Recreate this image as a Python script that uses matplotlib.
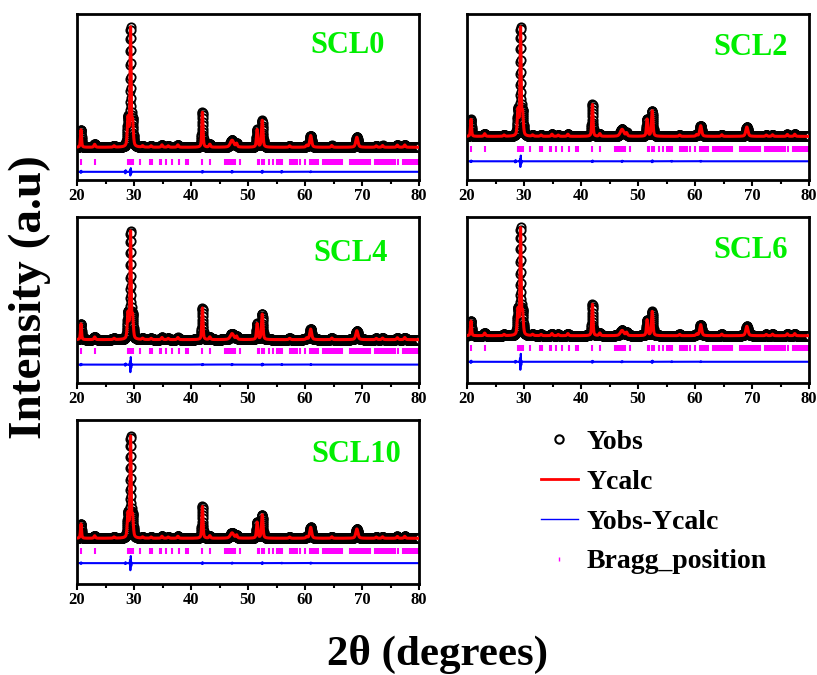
import numpy as np
import matplotlib
matplotlib.use("Agg")
import matplotlib.pyplot as plt
from matplotlib.lines import Line2D

plt.rcParams['font.family'] = ['Liberation Serif', 'DejaVu Serif']
plt.rcParams['font.weight'] = 'bold'

# strong reflections (2theta, fwhm) and their heights for each sample
major_pos = [20.7, 28.95, 29.4, 29.75, 42.0, 47.2, 51.6, 52.5, 61.0, 69.1]
major_fwhm = [0.22, 0.30, 0.22, 0.30, 0.25, 0.70, 0.28, 0.30, 0.40, 0.45]
h_scl0 = [0.15, 0.24, 1.0, 0.20, 0.30, 0.060, 0.15, 0.23, 0.100, 0.086]
h_scl2 = [0.16, 0.24, 1.0, 0.20, 0.30, 0.066, 0.16, 0.24, 0.100, 0.088]
h_scl4 = [0.15, 0.24, 1.0, 0.20, 0.30, 0.057, 0.15, 0.24, 0.100, 0.085]
h_scl6 = [0.14, 0.24, 1.0, 0.20, 0.30, 0.050, 0.15, 0.23, 0.105, 0.090]
h_scl10 = [0.145, 0.24, 1.0, 0.20, 0.32, 0.054, 0.16, 0.235, 0.110, 0.094]

# weak reflections, same in all samples
minor_pos = [23.1, 26.5, 31.5, 33.0, 34.9, 36.0, 37.7, 43.3, 48.0, 57.3,
             60.3, 64.7, 72.5, 73.6, 76.2, 77.5]
minor_h = [0.025, 0.012, 0.012, 0.012, 0.02, 0.012, 0.02, 0.025, 0.03, 0.012,
           0.015, 0.015, 0.012, 0.015, 0.018, 0.02]

# misfit left in the difference curve at a few reflections
resid_pos = [20.7, 28.5, 29.4, 42.0, 47.2, 52.5, 55.9, 61.0]
r_scl0 = [0.010, 0.015, 0.035, 0.008, 0.008, 0.010, 0.008, 0.004]
r_scl2 = [0.008, 0.012, 0.060, 0.008, 0.006, 0.010, 0.004, 0.004]
r_scl4 = [0.008, 0.012, 0.080, 0.006, 0.006, 0.010, 0.004, 0.004]
r_scl6 = [0.012, 0.010, 0.085, 0.010, 0.006, 0.012, 0.004, 0.004]
r_scl10 = [0.008, 0.010, 0.080, 0.010, 0.006, 0.010, 0.004, 0.006]

# calculated Bragg reflection positions
bragg = [20.76, 23.2, 28.96, 29.2, 29.4, 29.8, 31.0, 32.8, 33.2, 34.5, 34.8,
         35.6, 36.6, 37.9, 39.1, 39.5, 42.0, 43.4, 45.9, 46.2, 46.5, 46.8,
         47.1, 47.4, 47.7, 48.6, 51.7, 52.0, 52.4, 52.8, 53.6, 54.4, 55.1,
         55.4, 55.7, 56.0, 57.4, 57.7, 58.0, 58.3, 58.6, 59.1, 60.0, 60.9,
         61.2, 61.6, 61.9, 62.3, 63.2, 63.5, 63.8, 64.1, 64.4, 64.7, 65.0,
         65.3, 65.6, 65.9, 66.2, 66.5, 67.9, 68.3, 68.6, 68.9, 69.2, 69.5,
         69.8, 70.1, 70.4, 70.7, 71.0, 71.4, 72.3, 72.6, 72.9, 73.2, 73.5,
         73.8, 74.1, 74.4, 74.7, 75.0, 75.4, 75.8, 76.3, 77.2, 77.5, 77.8,
         78.1, 78.4, 78.7, 79.0, 79.3, 79.6, 79.8]

samples = ['SCL0', 'SCL2', 'SCL4', 'SCL6', 'SCL10']
heights = [h_scl0, h_scl2, h_scl4, h_scl6, h_scl10]
resids = [r_scl0, r_scl2, r_scl4, r_scl6, r_scl10]
# y window, Bragg row and difference row for each panel
ylims = [(-0.28, 1.14), (-0.41, 1.15), (-0.41, 1.16), (-0.45, 1.13), (-0.46, 1.19)]
bragg_y = [-0.126, -0.118, -0.11, -0.12, -0.125]
diff_y = [-0.21, -0.234, -0.236, -0.248, -0.25]
label_xy = [(0.79, 0.81), (0.83, 0.80), (0.80, 0.78), (0.83, 0.80), (0.816, 0.79)]


def pv(x, x0, w, eta=0.5):
    g = np.exp(-4 * np.log(2) * ((x - x0) / w) ** 2)
    l = 1 / (1 + 4 * ((x - x0) / w) ** 2)
    return eta * l + (1 - eta) * g


tt = np.arange(20, 80.001, 0.02)

fig = plt.figure(figsize=(8.17, 6.75), dpi=100)
W = 342 / 817
H = 166 / 675
boxes = [(77 / 817, 1 - 180 / 675, W, H),
         (467 / 817, 1 - 180 / 675, W, H),
         (77 / 817, 1 - 383 / 675, W, H),
         (467 / 817, 1 - 383 / 675, W, H),
         (77 / 817, 1 - 584 / 675, W, 164 / 675)]

for i, name in enumerate(samples):
    ax = fig.add_axes(boxes[i])
    ycalc = np.zeros_like(tt)
    for p, w, h in zip(major_pos, major_fwhm, heights[i]):
        ycalc += h * pv(tt, p, w)
    for p, h in zip(minor_pos, minor_h):
        ycalc += h * pv(tt, p, 0.3)
    ydiff = np.zeros_like(tt)
    for p, a in zip(resid_pos, resids[i]):
        ydiff += a * np.sin((tt - p) * 40) * np.exp(-((tt - p) / 0.12) ** 2)

    ax.plot(tt, ycalc, 'o', ms=6, mfc='white', mec='black', mew=1.3, zorder=2)
    ax.plot(tt, ycalc, color='red', lw=2.2, zorder=3)
    ax.plot(bragg, [bragg_y[i]] * len(bragg), '|', color='magenta', ms=5, mew=1.5)
    ax.plot(tt, ydiff + diff_y[i], color='blue', lw=1.5)

    ax.set_xlim(20, 80)
    ax.set_ylim(*ylims[i])
    ax.set_xticks(np.arange(20, 81, 10))
    ax.set_xticks(np.arange(25, 80, 10), minor=True)
    ax.set_yticks([])
    ax.tick_params(axis='x', which='both', direction='out', width=1.5, labelsize=12, pad=2)
    ax.tick_params(axis='x', which='major', length=4)
    ax.tick_params(axis='x', which='minor', length=3)
    for lab in ax.get_xticklabels():
        lab.set_fontweight('bold')
    for s in ax.spines.values():
        s.set_linewidth(2)
    ax.text(*label_xy[i], name, transform=ax.transAxes, ha='center', va='center',
            color='#00ee00', fontsize=22, fontweight='bold')

fig.text(0.037, 0.56, 'Intensity (a.u)', rotation=90, ha='center', va='center',
         fontsize=34, fontweight='bold')
fig.text(0.536, 0.03, '2θ (degrees)', ha='center', va='center',
         fontsize=31, fontweight='bold')

handles = [Line2D([], [], ls='none', marker='o', ms=6, mfc='white', mec='black', mew=1.5),
           Line2D([], [], color='red', lw=2),
           Line2D([], [], color='blue', lw=1),
           Line2D([], [], ls='none', marker='|', ms=3, color='magenta', mew=1)]
fig.legend(handles, ['Yobs', 'Ycalc', 'Yobs-Ycalc', 'Bragg_position'],
           loc='upper left', bbox_to_anchor=(0.631, 0.401), frameon=False,
           prop={'family': 'Liberation Serif', 'weight': 'bold', 'size': 20},
           handlelength=1.35, handletextpad=0.3, labelspacing=0.52)

fig.savefig('out.png', dpi=100)
